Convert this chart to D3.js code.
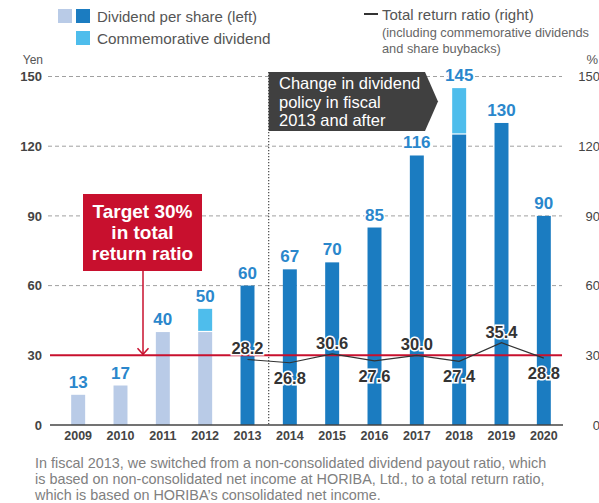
<!DOCTYPE html>
<html>
<head>
<meta charset="utf-8">
<script src="https://cdn.jsdelivr.net/npm/d3@7"></script>
<style>
  html, body { margin: 0; padding: 0; background: #fff; }
  svg { display: block; font-family: "Liberation Sans", Arial, sans-serif; }
</style>
</head>
<body>
<svg id="chart" width="599" height="503"></svg>
<script>
// Fiscal years
const years = ["2009","2010","2011","2012","2013","2014","2015","2016","2017","2018","2019","2020"];
// Ordinary dividend per share (yen)
const dividend = [13, 17, 40, 40, 60, 67, 70, 85, 116, 125, 130, 90];
// Commemorative dividend per share (yen)
const commemorative = [0, 0, 0, 10, 0, 0, 0, 0, 0, 20, 0, 0];
// Total dividend labels shown above bars
const totalLabels = [13, 17, 40, 50, 60, 67, 70, 85, 116, 145, 130, 90];
// Total return ratio (%) from fiscal 2013 on
const ratioYears = ["2013","2014","2015","2016","2017","2018","2019","2020"];
const ratio = [28.2, 26.8, 30.6, 27.6, 30.0, 27.4, 35.4, 28.8];
// Axis ticks (both axes share 0–150)
const ticks = [0, 30, 60, 90, 120, 150];
const targetRatio = 30;

const C = {
  oldBar: "#b9cbe7",
  newBar: "#1b7cc1",
  comm: "#4ebdec",
  label: "#2a87cc",
  red: "#c8102e",
  grid: "#a0a0a0",
  text: "#444",
  box: "#404040"
};

const svg = d3.select("#chart");

const x = d3.scaleBand().domain(years).range([57, 565]).padding(0);
const barW = x.bandwidth() * 0.33;
const cx = d => x(d) + x.bandwidth() / 2;
const y = d3.scaleLinear().domain([0, 150]).range([425, 76.5]);
const yR = d3.scaleLinear().domain([0, 150]).range([425, 76.5]);

// Dashed gridlines
svg.append("g").selectAll("line")
  .data(ticks.filter(t => t > 0 && t !== targetRatio))
  .join("line")
  .attr("x1", 48).attr("x2", 562)
  .attr("y1", d => y(d)).attr("y2", d => y(d))
  .attr("stroke", C.grid).attr("stroke-width", 1)
  .attr("stroke-dasharray", "4,3");

// Left axis labels
const yAxisL = d3.axisLeft(y).tickValues(ticks).tickSize(0).tickPadding(0);
const gL = svg.append("g").attr("transform", "translate(42,0)").call(yAxisL);
gL.select(".domain").remove();
gL.selectAll("text").attr("font-size", 13).attr("font-weight", "bold")
  .attr("fill", C.text).attr("font-family", "Liberation Sans, Arial, sans-serif");

// Right axis labels
const yAxisR = d3.axisRight(yR).tickValues(ticks).tickSize(0).tickPadding(0);
const gR = svg.append("g").attr("transform", "translate(600,0)").call(yAxisR);
gR.select(".domain").remove();
gR.selectAll("text").attr("text-anchor", "end").attr("font-size", 13)
  .attr("fill", C.text).attr("font-family", "Liberation Sans, Arial, sans-serif");

// Unit labels
svg.append("text").attr("x", 43).attr("y", 64).attr("text-anchor", "end")
  .attr("font-size", 12).attr("fill", "#555").text("Yen");
svg.append("text").attr("x", 598).attr("y", 64).attr("text-anchor", "end")
  .attr("font-size", 13).attr("fill", "#555").text("%");

// Dotted divider between policies
const divX = (cx("2013") + cx("2014")) / 2;
svg.append("line")
  .attr("x1", divX).attr("x2", divX)
  .attr("y1", 72).attr("y2", 425)
  .attr("stroke", "#555").attr("stroke-width", 1.3).attr("stroke-dasharray", "1.3,1.7");

// Bars: ordinary dividend
const newPolicy = d => +d >= 2013;
svg.append("g").selectAll("rect")
  .data(years.map((yr, i) => ({ yr, v: dividend[i] })))
  .join("rect")
  .attr("x", d => cx(d.yr) - barW / 2).attr("width", barW)
  .attr("y", d => y(d.v)).attr("height", d => y(0) - y(d.v))
  .attr("fill", d => newPolicy(d.yr) ? C.newBar : C.oldBar);

// Bars: commemorative dividend stacked on top
svg.append("g").selectAll("rect")
  .data(years.map((yr, i) => ({ yr, base: dividend[i], v: commemorative[i] })).filter(d => d.v > 0))
  .join("rect")
  .attr("x", d => cx(d.yr) - barW / 2).attr("width", barW)
  .attr("y", d => y(d.base + d.v)).attr("height", d => y(d.base) - y(d.base + d.v) - 1.2)
  .attr("fill", C.comm);

// Target line at 30%
svg.append("line").attr("x1", 50).attr("x2", 562)
  .attr("y1", yR(targetRatio)).attr("y2", yR(targetRatio))
  .attr("stroke", C.red).attr("stroke-width", 2);

// Baseline
svg.append("line").attr("x1", 50).attr("x2", 563)
  .attr("y1", y(0)).attr("y2", y(0))
  .attr("stroke", "#444").attr("stroke-width", 1.5);

// Year labels
const xAxis = d3.axisBottom(x).tickSize(0).tickPadding(0);
const gX = svg.append("g").attr("transform", "translate(0,429)").call(xAxis);
gX.select(".domain").remove();
gX.selectAll("text").attr("font-size", 12.5).attr("font-weight", "bold")
  .attr("fill", C.text).attr("dy", "0.9em")
  .attr("font-family", "Liberation Sans, Arial, sans-serif");

// Dividend value labels
svg.append("g").selectAll("text")
  .data(years.map((yr, i) => ({ yr, v: totalLabels[i] })))
  .join("text")
  .attr("x", d => cx(d.yr)).attr("y", d => y(d.v) - 7)
  .attr("text-anchor", "middle").attr("font-size", 17).attr("font-weight", "bold")
  .attr("fill", C.label)
  .attr("stroke", "#fff").attr("stroke-width", 3).attr("paint-order", "stroke")
  .text(d => d.v);

// Total return ratio line
const line = d3.line().x(d => cx(d.yr)).y(d => yR(d.v));
const ratioData = ratioYears.map((yr, i) => ({ yr, v: ratio[i] }));
svg.append("path").datum(ratioData).attr("d", line)
  .attr("fill", "none").attr("stroke", "#333").attr("stroke-width", 1.2);

// Ratio labels, above local peaks and below dips
const above = [true, false, true, false, true, false, true, false];
svg.append("g").selectAll("text")
  .data(ratioData)
  .join("text")
  .attr("x", d => cx(d.yr)).attr("y", (d, i) => above[i] ? yR(d.v) - 5 : yR(d.v) + 21)
  .attr("text-anchor", "middle").attr("font-size", 16.5).attr("font-weight", "bold")
  .attr("fill", "#333")
  .attr("stroke", "#fff").attr("stroke-width", 3).attr("paint-order", "stroke")
  .text(d => d.v.toFixed(1));

// Policy-change callout
svg.append("path")
  .attr("d", `M${divX},72 H425 L438,101.5 L425,131 H${divX} Z`)
  .attr("fill", C.box);
svg.append("text").attr("font-size", 16.5).attr("fill", "#fff")
  .selectAll("tspan").data(["Change in dividend", "policy in fiscal", "2013 and after"])
  .join("tspan").attr("x", 279).attr("y", (d, i) => 89 + i * 18.5).text(d => d);

// Target callout
svg.append("rect").attr("x", 83).attr("y", 194).attr("width", 119).attr("height", 77)
  .attr("fill", C.red);
svg.append("text").attr("font-size", 19).attr("font-weight", "bold").attr("fill", "#fff")
  .attr("text-anchor", "middle")
  .selectAll("tspan").data(["Target 30%", "in total", "return ratio"])
  .join("tspan").attr("x", 142.5).attr("y", (d, i) => 218 + i * 21).text(d => d);
svg.append("line").attr("x1", 143).attr("x2", 143).attr("y1", 271).attr("y2", yR(targetRatio) - 1)
  .attr("stroke", C.red).attr("stroke-width", 1.5);
svg.append("path")
  .attr("d", `M137.5,${yR(targetRatio) - 7} L143,${yR(targetRatio) - 1} L148.5,${yR(targetRatio) - 7}`)
  .attr("fill", "none").attr("stroke", C.red).attr("stroke-width", 1.5);

// Legend
const lg = svg.append("g");
lg.append("rect").attr("x", 58).attr("y", 9).attr("width", 14).attr("height", 14).attr("fill", C.oldBar);
lg.append("rect").attr("x", 76).attr("y", 9).attr("width", 14).attr("height", 14).attr("fill", C.newBar);
lg.append("rect").attr("x", 76).attr("y", 31).attr("width", 14).attr("height", 14).attr("fill", C.comm);
lg.append("text").attr("x", 97).attr("y", 22).attr("font-size", 15).attr("fill", "#555")
  .text("Dividend per share (left)");
lg.append("text").attr("x", 97).attr("y", 44).attr("font-size", 15.3).attr("fill", "#555")
  .text("Commemorative dividend");
lg.append("line").attr("x1", 364).attr("x2", 378).attr("y1", 14).attr("y2", 14)
  .attr("stroke", "#333").attr("stroke-width", 2);
lg.append("text").attr("x", 382).attr("y", 20).attr("font-size", 15).attr("fill", "#555")
  .text("Total return ratio (right)");
lg.append("text").attr("font-size", 12.8).attr("fill", "#666")
  .selectAll("tspan").data(["(including commemorative dividends", "and share buybacks)"])
  .join("tspan").attr("x", 382).attr("y", (d, i) => 37 + i * 16).text(d => d);

// Footnote
svg.append("text").attr("font-size", 14.4).attr("fill", "#808080")
  .selectAll("tspan").data([
    "In fiscal 2013, we switched from a non-consolidated dividend payout ratio, which",
    "is based on non-consolidated net income at HORIBA, Ltd., to a total return ratio,",
    "which is based on HORIBA\u2019s consolidated net income."
  ])
  .join("tspan").attr("x", 35).attr("y", (d, i) => 468 + i * 16).text(d => d);
</script>
</body>
</html>
